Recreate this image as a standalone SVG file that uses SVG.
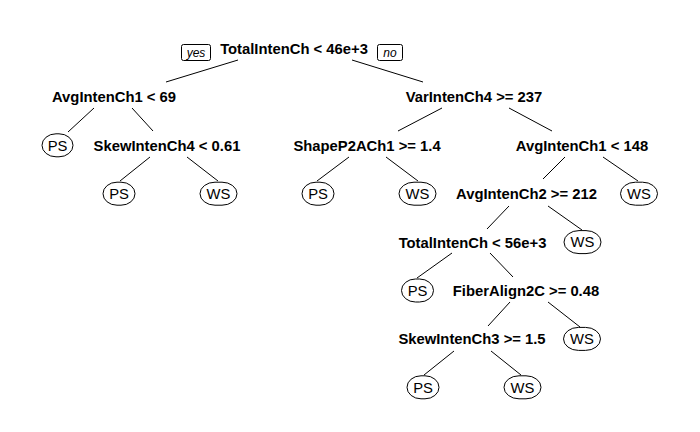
<svg xmlns="http://www.w3.org/2000/svg" width="700" height="432" viewBox="0 0 700 432">
<style>
.lbl{font-family:"Liberation Sans",Arial,sans-serif;font-size:14.8px;font-weight:bold;fill:#000;text-anchor:middle}
.lf{font-family:"Liberation Sans",Arial,sans-serif;font-size:14.8px;fill:#000;text-anchor:middle}
.lfb{fill:#fff;stroke:#000;stroke-width:1}
.yn{font-family:"Liberation Sans",Arial,sans-serif;font-size:12px;font-style:italic;fill:#000;text-anchor:middle}
.ynb{fill:#fff;stroke:#000;stroke-width:1}
.edge{stroke:#000;stroke-width:1;fill:none}
</style>
<rect width="700" height="432" fill="#fff"/>
<g id="connectors">
<line class="edge" x1="238" y1="60" x2="166" y2="82"/>
<line class="edge" x1="352" y1="60" x2="423" y2="82"/>
<line class="edge" x1="94" y1="108" x2="68" y2="132"/>
<line class="edge" x1="132" y1="108" x2="153" y2="131"/>
<line class="edge" x1="150" y1="157" x2="120" y2="181"/>
<line class="edge" x1="187" y1="157" x2="218" y2="181"/>
<line class="edge" x1="442" y1="108" x2="398" y2="131"/>
<line class="edge" x1="509" y1="108" x2="552" y2="131"/>
<line class="edge" x1="349" y1="157" x2="317" y2="181"/>
<line class="edge" x1="386" y1="157" x2="418" y2="181"/>
<line class="edge" x1="565" y1="157" x2="543" y2="179"/>
<line class="edge" x1="603" y1="157" x2="638" y2="181"/>
<line class="edge" x1="509" y1="206" x2="487" y2="229"/>
<line class="edge" x1="548" y1="206" x2="582" y2="230"/>
<line class="edge" x1="452" y1="253" x2="417" y2="278"/>
<line class="edge" x1="490" y1="253" x2="513" y2="277"/>
<line class="edge" x1="510" y1="302" x2="488" y2="326"/>
<line class="edge" x1="548" y1="302" x2="580" y2="327"/>
<line class="edge" x1="454" y1="351" x2="424" y2="375"/>
<line class="edge" x1="491" y1="351" x2="521" y2="375"/>
</g>
<g id="yes"><rect class="ynb" x="181.5" y="44.5" width="29" height="16" rx="2"/><text class="yn" x="196" y="57">yes</text></g>
<g id="no"><rect class="ynb" x="377.5" y="44.5" width="25" height="16" rx="2"/><text class="yn" x="390" y="57">no</text></g>
<g id="n1"><text class="lbl" x="294" y="54">TotalIntenCh &lt; 46e+3</text></g>
<g id="n2"><text class="lbl" x="114" y="102.4">AvgIntenCh1 &lt; 69</text></g>
<g id="n3"><text class="lbl" x="474" y="102.4">VarIntenCh4 &gt;= 237</text></g>
<g id="n5"><text class="lbl" x="167" y="150.8">SkewIntenCh4 &lt; 0.61</text></g>
<g id="n6"><text class="lbl" x="367" y="150.8">ShapeP2ACh1 &gt;= 1.4</text></g>
<g id="n7"><text class="lbl" x="582" y="150.8">AvgIntenCh1 &lt; 148</text></g>
<g id="n14"><text class="lbl" x="526.5" y="199.2">AvgIntenCh2 &gt;= 212</text></g>
<g id="n28"><text class="lbl" x="472.5" y="247.6">TotalIntenCh &lt; 56e+3</text></g>
<g id="n57"><text class="lbl" x="526" y="296">FiberAlign2C &gt;= 0.48</text></g>
<g id="n114"><text class="lbl" x="472" y="344.4">SkewIntenCh3 &gt;= 1.5</text></g>
<g id="leaf1"><rect class="lfb" x="42" y="133.8" width="31" height="23" rx="14" ry="11.5"/><text class="lf" x="57.5" y="150.5">PS</text></g>
<g id="leaf2"><rect class="lfb" x="103" y="182.2" width="32" height="23" rx="14" ry="11.5"/><text class="lf" x="119" y="198.9">PS</text></g>
<g id="leaf3"><rect class="lfb" x="200" y="182.2" width="37" height="23" rx="15" ry="11.5"/><text class="lf" x="218.5" y="198.9">WS</text></g>
<g id="leaf4"><rect class="lfb" x="302" y="182.2" width="32" height="23" rx="14" ry="11.5"/><text class="lf" x="318" y="198.9">PS</text></g>
<g id="leaf5"><rect class="lfb" x="399" y="182.2" width="37" height="23" rx="15" ry="11.5"/><text class="lf" x="417.5" y="198.9">WS</text></g>
<g id="leaf6"><rect class="lfb" x="620.5" y="182.2" width="37" height="23" rx="15" ry="11.5"/><text class="lf" x="639" y="198.9">WS</text></g>
<g id="leaf7"><rect class="lfb" x="564" y="230.6" width="37" height="23" rx="15" ry="11.5"/><text class="lf" x="582.5" y="247.3">WS</text></g>
<g id="leaf8"><rect class="lfb" x="401.5" y="279" width="32" height="23" rx="14" ry="11.5"/><text class="lf" x="417.5" y="295.7">PS</text></g>
<g id="leaf9"><rect class="lfb" x="563.5" y="327.4" width="37" height="23" rx="15" ry="11.5"/><text class="lf" x="582" y="344.1">WS</text></g>
<g id="leaf10"><rect class="lfb" x="407" y="375.8" width="32" height="23" rx="14" ry="11.5"/><text class="lf" x="423" y="392.5">PS</text></g>
<g id="leaf11"><rect class="lfb" x="504" y="375.8" width="37" height="23" rx="15" ry="11.5"/><text class="lf" x="522.5" y="392.5">WS</text></g>
</svg>
